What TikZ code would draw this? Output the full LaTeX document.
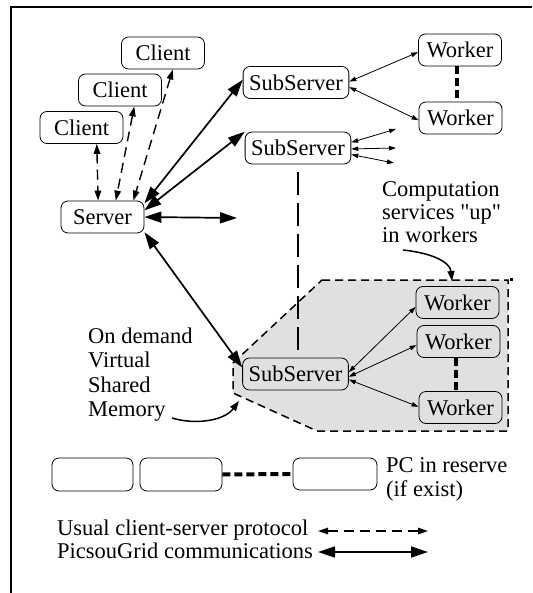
\documentclass[tikz,border=0pt]{standalone}
\usepackage{fontspec}
\setmainfont{Liberation Serif}
\usetikzlibrary{arrows.meta,calc}
\begin{document}
\begin{tikzpicture}[x=1pt,y=-1pt,
  txt/.style={font=\fontsize{22.5}{24}\selectfont},
  box/.style={txt,draw,line width=0.8pt,rounded corners=7pt,minimum width=83pt,
    minimum height=32pt,inner xsep=6pt,inner ysep=0pt},
  lbl/.style={txt,anchor=base west,inner sep=0pt},
  pg/.style={line width=1.7pt,{Triangle[length=17pt,width=11pt]}-{Triangle[length=17pt,width=11pt]}},
  cs/.style={line width=1.4pt,dash pattern=on 10pt off 6pt,
    {Triangle[length=10pt,width=6.5pt]}-{Triangle[length=10pt,width=6.5pt]}},
  fine/.style={line width=0.8pt,{Triangle[length=7pt,width=4.5pt]}-{Triangle[length=7pt,width=4.5pt]}},
  wdash/.style={line width=4pt,dash pattern=on 8pt off 4pt},
  ldash/.style={line width=1.5pt,dash pattern=on 23pt off 8pt},
  note/.style={line width=1.5pt,-{Triangle[length=10pt,width=7pt]}},
  zone/.style={draw,fill=black!12,line width=1.5pt,dash pattern=on 8pt off 5pt}]
\useasboundingbox (0,0) rectangle (532,593);

% frame
\draw[line width=2pt] (11,593) -- (11,7) -- (532,7);

% group of reserved computation nodes
\draw[zone] (322,280) -- (508,280) -- (508,431) -- (317,431) -- (233,393) -- (233,363) -- cycle;
\fill (510,278) rectangle (513,281);

% nodes
\node[box] (c3) at (163,53) {Client};
\node[box] (c2) at (120,90) {Client};
\node[box] (c1) at (81.5,127.5) {Client};
\node[box] (srv) at (102.5,217) {Server};
\node[box] (sub1) at (296,82.5) {SubServer};
\node[box] (sub2) at (298,148) {SubServer};
\node[box] (sub3) at (295.5,374) {SubServer};
\node[box] (wa) at (460,50) {Worker};
\node[box] (wb) at (460.5,118) {Worker};
\node[box] (w1) at (457.5,302.5) {Worker};
\node[box] (w2) at (458.5,341.5) {Worker};
\node[box] (w3) at (460.5,407.5) {Worker};
\node[box,minimum width=81pt,minimum height=33pt] (pc1) at (92.5,474.5) {};
\node[box,minimum width=82pt,minimum height=33pt] (pc2) at (181,474.5) {};
\node[box,minimum width=84pt,minimum height=32pt] (pc3) at (335,474) {};

% labels, one node per printed line
\node[lbl] (comp1) at (382,197) {Computation};
\node[lbl] (comp2) at (382,220) {services \textquotedbl up\textquotedbl};
\node[lbl] (comp3) at (382,243) {in workers};
\node[lbl] (mem1) at (88,343) {On demand};
\node[lbl] (mem2) at (88,367.5) {Virtual};
\node[lbl] (mem3) at (88,392) {Shared};
\node[lbl] (mem4) at (88,416.5) {Memory};
\node[lbl] (pcr1) at (386,472) {PC in reserve};
\node[lbl] (pcr2) at (386,496) {(if exist)};
\node[lbl] (leg1) at (57,535) {Usual client-server protocol};
\node[lbl] (leg2) at (57,558) {PicsouGrid communications};

% free ends
\coordinate (hz) at (237,218);
\coordinate (e1) at (396,129);
\coordinate (e2) at (396,148);
\coordinate (e3) at (394,163);
\coordinate (cmpA) at (403,250);
\coordinate (cmpB) at (452,281);
\coordinate (memA) at (172,418);
\coordinate (memB) at (239,401);
\coordinate (l1a) at (318,531);
\coordinate (l1b) at (428,531);
\coordinate (l2a) at (318,552);
\coordinate (l2b) at (428,552);

% client-server protocol
\draw[cs] (c1.313) -- (srv.105);
\draw[cs] (c2.311) -- (srv.51);
\draw[cs] (c3.301) -- (srv.28);

% PicsouGrid links
\draw[pg] (srv.18) -- (sub1.177);
\draw[pg] (srv.9) -- (sub2.163);
\draw[pg] (srv.east) -- (hz);
\draw[pg] (srv.340) -- (sub3.173);

% subserver to workers
\draw[fine] (sub1.1) -- (wa.183);
\draw[fine] (sub1.355) -- (wb.183);
\draw[fine] (sub2.6) -- (e1);
\draw[fine] (sub2.359) -- (e2);
\draw[fine] (sub2.353) -- (e3);
\draw[fine] (sub3.2) -- (w1.186);
\draw[fine] (sub3.357) -- (w2.185);
\draw[fine] (sub3.354) -- (w3.179);

% worker chains and reserve
\draw[wdash] ([xshift=-3pt]wa.south) -- ([xshift=-3pt]wa.south |- wb.north);
\draw[wdash] ([xshift=-2.5pt]w2.south) -- ([xshift=-2.5pt]w2.south |- w3.north);
\draw[wdash] (pc2.east) -- (pc3.west);

% virtual shared memory link
\draw[ldash] ($(sub2.south)+(0,8)$) -- ($(sub2.south |- sub3.north)+(0,-5)$);

% annotations
\draw[note] (cmpA) .. controls (432,253) and (450,262) .. (cmpB);
\draw[note] (memA) .. controls (195,425) and (224,421) .. (memB);

% legend
\draw[cs] (l1a) -- (l1b);
\draw[pg] (l2a) -- (l2b);
\end{tikzpicture}
\end{document}
